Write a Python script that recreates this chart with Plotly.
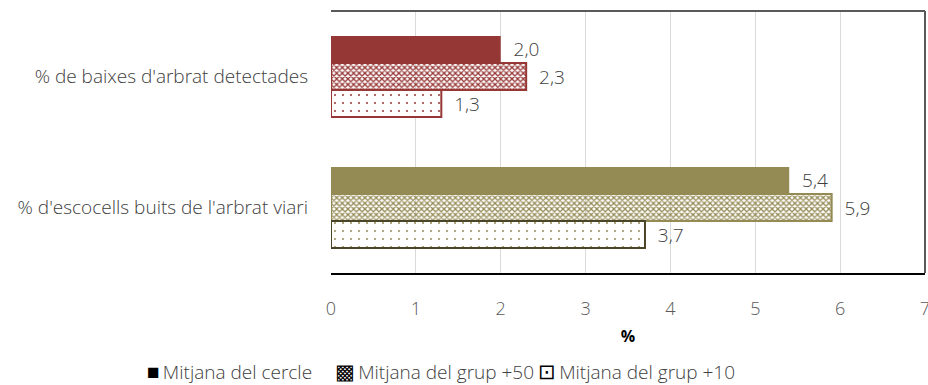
import plotly.graph_objects as go

# Indicators (top to bottom) and the three reference averages
categories = ["% de baixes d'arbrat detectades", "% d'escocells buits de l'arbrat viari"]
series_names = ["Mitjana del cercle", "Mitjana del grup +50", "Mitjana del grup +10"]
legend_glyphs = ["\u25A0", "\u25A9", "\u22A1"]
cercle = [2.0, 5.4]
grup50 = [2.3, 5.9]
grup10 = [1.3, 3.7]
x_ticks = [0, 1, 2, 3, 4, 5, 6, 7]

# One colour per indicator
base_colors = ["#953735", "#948A54"]
dot_outline = ["#953735", "#4A4428"]

font_family = "Open Sans, Noto Sans, DejaVu Sans, sans-serif"
label_color = "#404040"
fsize = 19

# Plot area in pixels (used to place the legend row)
W, H = 928, 385
M_L, M_R, M_T, M_B = 331, 3, 11, 112
plot_w = W - M_L - M_R
plot_h = H - M_T - M_B

fig = go.Figure()

styles = [
    dict(pattern=dict(shape=""), color=base_colors, line=dict(color=base_colors, width=0)),
    dict(pattern=dict(shape="x", fgcolor=base_colors, bgcolor="#ffffff", size=4, solidity=0.55,
                      fillmode="replace"),
         color=base_colors, line=dict(color=base_colors, width=2)),
    dict(pattern=dict(shape=".", fgcolor=base_colors, bgcolor="#ffffff", size=8, solidity=0.05,
                      fillmode="replace"),
         color="#ffffff", line=dict(color=dot_outline, width=2)),
]

for name, vals, st in zip(series_names, [cercle, grup50, grup10], styles):
    fig.add_trace(go.Bar(
        y=categories, x=vals, orientation="h", name=name, showlegend=False,
        marker=dict(color=st["color"], line=st["line"], pattern=st["pattern"]),
        texttemplate="\u00a0\u00a0%{x:.1f}", textposition="outside", cliponaxis=False,
        textfont=dict(family=font_family, size=fsize, color=label_color, weight=300),
        hoverinfo="skip",
    ))

# Legend row: a swatch glyph followed by the series name
legend_x = [146, 334, 537]      # entry left edge, px
row_y = 372                     # legend row centre, px

annotations = [
    dict(text=(f"<span style='font-family:DejaVu Sans;font-size:21px;color:#000000'>{g}</span>"
               f"\u2009{name}"),
         xref="paper", yref="paper",
         x=(lx - M_L) / plot_w, y=(H - M_B - row_y) / plot_h,
         xanchor="left", yanchor="middle", showarrow=False, borderpad=0,
         font=dict(family=font_family, size=fsize, color=label_color, weight=300))
    for g, name, lx in zip(legend_glyphs, series_names, legend_x)
]

fig.update_layout(
    width=W, height=H,
    margin=dict(l=M_L, r=M_R, t=M_T, b=M_B),
    paper_bgcolor="#ffffff", plot_bgcolor="#ffffff",
    barmode="group", bargap=0.38, bargroupgap=0,
    separators=",.",
    showlegend=False,
    font=dict(family=font_family, color=label_color, size=fsize),
    xaxis=dict(
        range=[0, 7], tickvals=x_ticks, showgrid=True, gridcolor="#D9D9D9", gridwidth=1,
        zeroline=False, showline=True, linecolor="#000000", linewidth=2,
        tickfont=dict(size=18, color="#595959", weight=300), ticklabelstandoff=18,
        ticklabeloverflow="allow", automargin=False,
        title=dict(text="<b>%</b>", font=dict(size=16, color="#000000"), standoff=12),
    ),
    yaxis=dict(
        categoryorder="array", categoryarray=categories, autorange="reversed",
        showline=False, showgrid=False, zeroline=False, ticks="",
        tickfont=dict(size=fsize, color=label_color, weight=300), ticklabelstandoff=22,
        automargin=False,
    ),
    annotations=annotations,
    shapes=[
        dict(type="line", xref="paper", yref="paper", x0=0, x1=1, y0=1, y1=1,
             line=dict(color="#595959", width=2)),
        dict(type="line", xref="paper", yref="paper", x0=1, x1=1, y0=0, y1=1,
             line=dict(color="#595959", width=2)),
    ],
)

fig.write_html("out.html")
